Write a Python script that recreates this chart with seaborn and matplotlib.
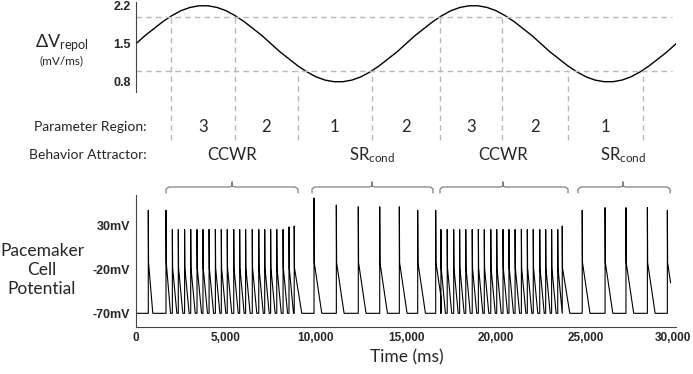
import matplotlib
matplotlib.use('Agg')
import matplotlib.pyplot as plt
import matplotlib.transforms as mtrans
import pandas as pd
import numpy as np
import seaborn as sns

# ---- data ----
# top panel: repolarisation slope sampled every 500 ms
drive_t = list(range(0, 30001, 500))
drive_v = [1.50, 1.65, 1.78, 1.91, 2.02, 2.11, 2.17, 2.20, 2.20, 2.17, 2.11, 2.02, 1.91, 1.78, 1.65,
           1.50, 1.35, 1.22, 1.09, 0.98, 0.89, 0.83, 0.80, 0.80, 0.83, 0.89, 0.98, 1.09, 1.22, 1.35,
           1.50, 1.65, 1.78, 1.91, 2.02, 2.11, 2.17, 2.20, 2.20, 2.17, 2.11, 2.02, 1.91, 1.78, 1.65,
           1.50, 1.35, 1.22, 1.09, 0.98, 0.89, 0.83, 0.80, 0.80, 0.83, 0.89, 0.98, 1.09, 1.22, 1.35,
           1.50]
thresholds = [2.0, 1.0]
bound_t = [1950, 5500, 9000, 13100, 16900, 20350, 24000, 28150]
bound_v = [2.0, 2.0, 1.0, 1.0, 2.0, 2.0, 1.0, 1.0]
region_labels = ['3', '2', '1', '2', '3', '2', '1']

behavior_labels = ['CCWR', 'SR$_{\\mathrm{cond}}$', 'CCWR', 'SR$_{\\mathrm{cond}}$']
brace_start = [1670, 9780, 16890, 24560]
brace_end = [9000, 16500, 24000, 29670]
brace_mid = [5340, 13110, 20390, 27060]

# bottom panel: spike times (ms) and peak voltages (mV)
pre_t = [683, 1667]
pre_peak = [48, 48]
burst1_t = [2020, 2350, 2700, 3040, 3390, 3720, 4060, 4410, 4740, 5070, 5430,
            5760, 6090, 6460, 6820, 7150, 7480, 7820, 8170, 8500, 8790]
burst1_peak = [26, 26, 26, 26, 26, 26, 26, 26, 26, 26, 26,
               26, 26, 26, 26, 26, 26, 26, 26, 29, 30]
sr1_t = [9890, 11130, 12350, 13540, 14630, 15650, 16650]
sr1_peak = [62, 54, 52, 52, 52, 48, 48]
burst2_t = [16940, 17290, 17650, 17980, 18320, 18680, 19020, 19350, 19710, 20040, 20390,
            20720, 21060, 21410, 21740, 22070, 22430, 22760, 23090, 23430, 23680]
burst2_peak = [26, 26, 26, 26, 26, 26, 26, 26, 26, 26, 26,
               26, 26, 26, 26, 26, 26, 26, 26, 26, 30]
sr2_t = [24790, 26060, 27220, 28410, 29520]
sr2_peak = [48, 51, 51, 51, 48]
trace_end = 29700
REST = -70

# waveform shape per group: (post-peak knee mV, decay duration ms)
shape = {'pre': (-12, 250), 'burst': (-18, 250), 'sr': (-12, 430)}
groups = [('pre', pre_t, pre_peak), ('burst', burst1_t, burst1_peak), ('sr', sr1_t, sr1_peak),
          ('burst', burst2_t, burst2_peak), ('sr', sr2_t, sr2_peak)]

spk = []
for kind, ts, ps in groups:
    knee, dec = shape[kind]
    for i, (t, p) in enumerate(zip(ts, ps)):
        d = 420 if (kind == 'burst' and i == len(ts) - 1) else dec
        spk.append((t, p, knee, d))
spk.sort()

tt, vv = [0], [REST]
for i, (t, p, knee, d) in enumerate(spk):
    nxt = spk[i + 1][0] if i + 1 < len(spk) else trace_end
    tt += [t, t, t + 15]
    vv += [REST, p, knee]
    end = min(t + d, nxt)
    frac = (end - t - 15) / (d - 15)
    tt.append(end)
    vv.append(knee + (REST - knee) * frac)
if tt[-1] < trace_end:
    tt.append(trace_end)
    vv.append(REST)
trace = pd.DataFrame({'t': tt, 'v': vv})
drive = pd.DataFrame({'t': drive_t, 'v': drive_v})

# ---- style ----
sns.set_style('white')
plt.rcParams['font.family'] = ['Lato', 'DejaVu Sans']
plt.rcParams['mathtext.fontset'] = 'custom'
plt.rcParams['mathtext.rm'] = 'Lato'
plt.rcParams['mathtext.it'] = 'Lato:italic'
tickfont = dict(family='Liberation Sans', fontweight='bold', fontsize=9)
xtickfont = dict(family='Liberation Sans', fontweight='bold', fontsize=8.5)
grey = '#b8b8b8'
W, H = 693, 374

fig = plt.figure(figsize=(6.93, 3.74), dpi=100)
ax_top = fig.add_axes([136 / W, 1 - 92 / H, 540 / W, 90 / H])
ax_bot = fig.add_axes([136 / W, 1 - 326.5 / H, 540 / W, 131.5 / H])

# top panel
sns.lineplot(data=drive, x='t', y='v', ax=ax_top, color='black', lw=1.0,
             estimator=None, sort=False)
ax_top.hlines(thresholds, 0, 29800, colors=grey, linestyles=(0, (4, 3)), lw=1)
ax_top.vlines(bound_t, -0.27, bound_v, colors=grey, linestyles=(0, (4, 3)), lw=1, clip_on=False)
ax_top.set_xlim(0, 30000)
ax_top.set_ylim(0.61, 2.27)
ax_top.set_yticks([0.8, 1.5, 2.2], ['0.8', '1.5', '2.2'], **tickfont)
ax_top.set_xticks([])
ax_top.set_xlabel('')
ax_top.set_ylabel('')
for s in ['top', 'right', 'bottom']:
    ax_top.spines[s].set_visible(False)
ax_top.spines['left'].set_color('#444')
ax_top.spines['left'].set_linewidth(0.8)
ax_top.tick_params(axis='y', direction='out', length=3, width=0.8, pad=1, color='#444')

# region numbers, behaviour labels and braces below the top panel
tr = ax_top.get_xaxis_transform()
fy = lambda py: (92 - py) / 90
mids = [(a + b) / 2 for a, b in zip(bound_t[:-1], bound_t[1:])]
for x, lab in zip(mids, region_labels):
    ax_top.text(x, fy(127), lab, transform=tr, ha='center', va='center', fontsize=12, clip_on=False)
for x0, x1, xm, lab in zip(brace_start, brace_end, brace_mid, behavior_labels):
    ax_top.text(xm, fy(155), lab, transform=tr, ha='center', va='center', fontsize=12, clip_on=False)
    r = 150
    bx = [x0, x0, x0 + r, xm - r, xm, xm, xm, xm + r, x1 - r, x1, x1]
    by = [193, 189, 187, 187, 186, 182, 186, 187, 187, 189, 193]
    ax_top.plot(bx, [fy(v) for v in by], transform=tr, color='#808080', lw=0.9, clip_on=False)

# bottom panel
sns.lineplot(data=trace, x='t', y='v', ax=ax_bot, color='black', lw=0.8,
             estimator=None, sort=False)
ax_bot.set_xlim(0, 30000)
ax_bot.set_ylim(-85.1, 65.5)
ax_bot.set_yticks([30, -20, -70], ['30mV', '-20mV', '-70mV'], **tickfont)
ax_bot.set_xticks(range(0, 30001, 5000),
                  ['0', '5,000', '10,000', '15,000', '20,000', '25,000', '30,000'], **xtickfont)
ax_bot.set_xlabel('')
ax_bot.set_ylabel('')
for s in ['top', 'right']:
    ax_bot.spines[s].set_visible(False)
for s in ['left', 'bottom']:
    ax_bot.spines[s].set_color('#444')
    ax_bot.spines[s].set_linewidth(0.8)
ax_bot.tick_params(axis='y', direction='out', length=3, width=0.8, pad=1, color='#444')
ax_bot.tick_params(axis='x', direction='in', length=5, width=0.8, pad=4, color='#444')
# nudge the last tick label so it stays inside the canvas
last = ax_bot.get_xticklabels()[-1]
last.set_transform(last.get_transform() + mtrans.ScaledTranslation(-2.5 / 72, 0, fig.dpi_scale_trans))

# side and axis labels
fig.text(62 / W, 1 - 43 / H, '\u0394V$_{\\mathrm{repol}}$', ha='center', va='center', fontsize=13)
fig.text(62 / W, 1 - 61 / H, '(mV/ms)', ha='center', va='center', fontsize=8.5)
fig.text(147 / W, 1 - 127 / H, 'Parameter Region:', ha='right', va='center', fontsize=10)
fig.text(147 / W, 1 - 155 / H, 'Behavior Attractor:', ha='right', va='center', fontsize=10)
fig.text(42 / W, 1 - 270 / H, 'Pacemaker\nCell\nPotential', ha='center', va='center',
         fontsize=12.5, linespacing=1.25)
fig.text(407 / W, 1 - 357 / H, 'Time (ms)', ha='center', va='center', fontsize=12.5)

fig.savefig('out.png', dpi=100)
